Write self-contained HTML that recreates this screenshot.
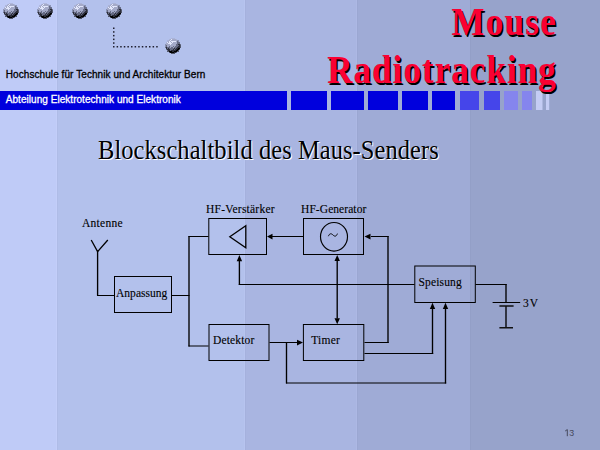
<!DOCTYPE html>
<html><head><meta charset="utf-8">
<style>
html,body{margin:0;padding:0;width:600px;height:450px;overflow:hidden;background:#B3C1EC}
svg{display:block}
.sans{font-family:"Liberation Sans",sans-serif}
.serif{font-family:"Liberation Serif",serif}
</style></head><body>
<svg width="600" height="450" viewBox="0 0 600 450">
<defs>
<symbol id="ballsym" viewBox="0 0 18 18" width="18" height="18"><rect x="7" y="1" width="1" height="1" fill="#a4aac8" fill-opacity="0.55"/><rect x="8" y="1" width="1" height="1" fill="#a4aac8" fill-opacity="0.55"/><rect x="9" y="1" width="1" height="1" fill="#a4aac8" fill-opacity="0.55"/><rect x="10" y="1" width="1" height="1" fill="#a4aac8" fill-opacity="0.55"/><rect x="5" y="2" width="1" height="1" fill="#a4aac8" fill-opacity="0.55"/><rect x="6" y="2" width="1" height="1" fill="#a4aac8"/><rect x="7" y="2" width="1" height="1" fill="#e2e7fb"/><rect x="8" y="2" width="1" height="1" fill="#a4aac8"/><rect x="9" y="2" width="1" height="1" fill="#a4aac8"/><rect x="10" y="2" width="1" height="1" fill="#a4aac8"/><rect x="11" y="2" width="1" height="1" fill="#a4aac8"/><rect x="12" y="2" width="1" height="1" fill="#a4aac8" fill-opacity="0.55"/><rect x="3" y="3" width="1" height="1" fill="#a4aac8" fill-opacity="0.55"/><rect x="4" y="3" width="1" height="1" fill="#a4aac8" fill-opacity="0.55"/><rect x="5" y="3" width="1" height="1" fill="#a4aac8"/><rect x="6" y="3" width="1" height="1" fill="#e2e7fb"/><rect x="7" y="3" width="1" height="1" fill="#a4aac8"/><rect x="8" y="3" width="1" height="1" fill="#a4aac8"/><rect x="9" y="3" width="1" height="1" fill="#a4aac8"/><rect x="10" y="3" width="1" height="1" fill="#a4aac8"/><rect x="11" y="3" width="1" height="1" fill="#a4aac8"/><rect x="12" y="3" width="1" height="1" fill="#a4aac8"/><rect x="13" y="3" width="1" height="1" fill="#666b84" fill-opacity="0.55"/><rect x="14" y="3" width="1" height="1" fill="#666b84" fill-opacity="0.55"/><rect x="3" y="4" width="1" height="1" fill="#a4aac8" fill-opacity="0.55"/><rect x="4" y="4" width="1" height="1" fill="#a4aac8"/><rect x="5" y="4" width="1" height="1" fill="#e2e7fb"/><rect x="6" y="4" width="1" height="1" fill="#a4aac8"/><rect x="7" y="4" width="1" height="1" fill="#e2e7fb"/><rect x="8" y="4" width="1" height="1" fill="#e2e7fb"/><rect x="9" y="4" width="1" height="1" fill="#e2e7fb"/><rect x="10" y="4" width="1" height="1" fill="#e2e7fb"/><rect x="11" y="4" width="1" height="1" fill="#e2e7fb"/><rect x="12" y="4" width="1" height="1" fill="#a4aac8"/><rect x="13" y="4" width="1" height="1" fill="#666b84"/><rect x="14" y="4" width="1" height="1" fill="#666b84" fill-opacity="0.55"/><rect x="2" y="5" width="1" height="1" fill="#a4aac8" fill-opacity="0.55"/><rect x="3" y="5" width="1" height="1" fill="#e2e7fb"/><rect x="4" y="5" width="1" height="1" fill="#a4aac8"/><rect x="5" y="5" width="1" height="1" fill="#e2e7fb"/><rect x="6" y="5" width="1" height="1" fill="#e2e7fb"/><rect x="7" y="5" width="1" height="1" fill="#a4aac8"/><rect x="8" y="5" width="1" height="1" fill="#e2e7fb"/><rect x="9" y="5" width="1" height="1" fill="#a4aac8"/><rect x="10" y="5" width="1" height="1" fill="#a4aac8"/><rect x="11" y="5" width="1" height="1" fill="#a4aac8"/><rect x="12" y="5" width="1" height="1" fill="#a4aac8"/><rect x="13" y="5" width="1" height="1" fill="#666b84"/><rect x="14" y="5" width="1" height="1" fill="#666b84"/><rect x="15" y="5" width="1" height="1" fill="#2c2e3a" fill-opacity="0.55"/><rect x="2" y="6" width="1" height="1" fill="#a4aac8"/><rect x="3" y="6" width="1" height="1" fill="#a4aac8"/><rect x="4" y="6" width="1" height="1" fill="#e2e7fb"/><rect x="5" y="6" width="1" height="1" fill="#e2e7fb"/><rect x="6" y="6" width="1" height="1" fill="#e2e7fb"/><rect x="7" y="6" width="1" height="1" fill="#e2e7fb"/><rect x="8" y="6" width="1" height="1" fill="#a4aac8"/><rect x="9" y="6" width="1" height="1" fill="#a4aac8"/><rect x="10" y="6" width="1" height="1" fill="#a4aac8"/><rect x="11" y="6" width="1" height="1" fill="#a4aac8"/><rect x="12" y="6" width="1" height="1" fill="#a4aac8"/><rect x="13" y="6" width="1" height="1" fill="#666b84"/><rect x="14" y="6" width="1" height="1" fill="#666b84"/><rect x="15" y="6" width="1" height="1" fill="#666b84"/><rect x="1" y="7" width="1" height="1" fill="#666b84" fill-opacity="0.55"/><rect x="2" y="7" width="1" height="1" fill="#a4aac8"/><rect x="3" y="7" width="1" height="1" fill="#a4aac8"/><rect x="4" y="7" width="1" height="1" fill="#a4aac8"/><rect x="5" y="7" width="1" height="1" fill="#a4aac8"/><rect x="6" y="7" width="1" height="1" fill="#e2e7fb"/><rect x="7" y="7" width="1" height="1" fill="#a4aac8"/><rect x="8" y="7" width="1" height="1" fill="#a4aac8"/><rect x="9" y="7" width="1" height="1" fill="#a4aac8"/><rect x="10" y="7" width="1" height="1" fill="#a4aac8"/><rect x="11" y="7" width="1" height="1" fill="#a4aac8"/><rect x="12" y="7" width="1" height="1" fill="#666b84"/><rect x="13" y="7" width="1" height="1" fill="#666b84"/><rect x="14" y="7" width="1" height="1" fill="#2c2e3a"/><rect x="15" y="7" width="1" height="1" fill="#2c2e3a"/><rect x="16" y="7" width="1" height="1" fill="#2c2e3a" fill-opacity="0.55"/><rect x="1" y="8" width="1" height="1" fill="#666b84" fill-opacity="0.55"/><rect x="2" y="8" width="1" height="1" fill="#666b84"/><rect x="3" y="8" width="1" height="1" fill="#a4aac8"/><rect x="4" y="8" width="1" height="1" fill="#a4aac8"/><rect x="5" y="8" width="1" height="1" fill="#a4aac8"/><rect x="6" y="8" width="1" height="1" fill="#a4aac8"/><rect x="7" y="8" width="1" height="1" fill="#a4aac8"/><rect x="8" y="8" width="1" height="1" fill="#a4aac8"/><rect x="9" y="8" width="1" height="1" fill="#a4aac8"/><rect x="10" y="8" width="1" height="1" fill="#a4aac8"/><rect x="11" y="8" width="1" height="1" fill="#a4aac8"/><rect x="12" y="8" width="1" height="1" fill="#666b84"/><rect x="13" y="8" width="1" height="1" fill="#666b84"/><rect x="14" y="8" width="1" height="1" fill="#666b84"/><rect x="15" y="8" width="1" height="1" fill="#2c2e3a"/><rect x="16" y="8" width="1" height="1" fill="#000000" fill-opacity="0.55"/><rect x="1" y="9" width="1" height="1" fill="#666b84" fill-opacity="0.55"/><rect x="2" y="9" width="1" height="1" fill="#666b84"/><rect x="3" y="9" width="1" height="1" fill="#a4aac8"/><rect x="4" y="9" width="1" height="1" fill="#a4aac8"/><rect x="5" y="9" width="1" height="1" fill="#666b84"/><rect x="6" y="9" width="1" height="1" fill="#a4aac8"/><rect x="7" y="9" width="1" height="1" fill="#a4aac8"/><rect x="8" y="9" width="1" height="1" fill="#a4aac8"/><rect x="9" y="9" width="1" height="1" fill="#666b84"/><rect x="10" y="9" width="1" height="1" fill="#a4aac8"/><rect x="11" y="9" width="1" height="1" fill="#666b84"/><rect x="12" y="9" width="1" height="1" fill="#666b84"/><rect x="13" y="9" width="1" height="1" fill="#666b84"/><rect x="14" y="9" width="1" height="1" fill="#2c2e3a"/><rect x="15" y="9" width="1" height="1" fill="#2c2e3a"/><rect x="16" y="9" width="1" height="1" fill="#000000" fill-opacity="0.55"/><rect x="1" y="10" width="1" height="1" fill="#2c2e3a" fill-opacity="0.55"/><rect x="2" y="10" width="1" height="1" fill="#2c2e3a"/><rect x="3" y="10" width="1" height="1" fill="#666b84"/><rect x="4" y="10" width="1" height="1" fill="#666b84"/><rect x="5" y="10" width="1" height="1" fill="#666b84"/><rect x="6" y="10" width="1" height="1" fill="#a4aac8"/><rect x="7" y="10" width="1" height="1" fill="#666b84"/><rect x="8" y="10" width="1" height="1" fill="#666b84"/><rect x="9" y="10" width="1" height="1" fill="#a4aac8"/><rect x="10" y="10" width="1" height="1" fill="#666b84"/><rect x="11" y="10" width="1" height="1" fill="#666b84"/><rect x="12" y="10" width="1" height="1" fill="#666b84"/><rect x="13" y="10" width="1" height="1" fill="#2c2e3a"/><rect x="14" y="10" width="1" height="1" fill="#2c2e3a"/><rect x="15" y="10" width="1" height="1" fill="#2c2e3a"/><rect x="16" y="10" width="1" height="1" fill="#000000" fill-opacity="0.55"/><rect x="2" y="11" width="1" height="1" fill="#2c2e3a"/><rect x="3" y="11" width="1" height="1" fill="#666b84"/><rect x="4" y="11" width="1" height="1" fill="#2c2e3a"/><rect x="5" y="11" width="1" height="1" fill="#666b84"/><rect x="6" y="11" width="1" height="1" fill="#666b84"/><rect x="7" y="11" width="1" height="1" fill="#666b84"/><rect x="8" y="11" width="1" height="1" fill="#666b84"/><rect x="9" y="11" width="1" height="1" fill="#666b84"/><rect x="10" y="11" width="1" height="1" fill="#2c2e3a"/><rect x="11" y="11" width="1" height="1" fill="#666b84"/><rect x="12" y="11" width="1" height="1" fill="#2c2e3a"/><rect x="13" y="11" width="1" height="1" fill="#2c2e3a"/><rect x="14" y="11" width="1" height="1" fill="#000000"/><rect x="15" y="11" width="1" height="1" fill="#000000"/><rect x="2" y="12" width="1" height="1" fill="#2c2e3a" fill-opacity="0.55"/><rect x="3" y="12" width="1" height="1" fill="#2c2e3a"/><rect x="4" y="12" width="1" height="1" fill="#2c2e3a"/><rect x="5" y="12" width="1" height="1" fill="#2c2e3a"/><rect x="6" y="12" width="1" height="1" fill="#666b84"/><rect x="7" y="12" width="1" height="1" fill="#666b84"/><rect x="8" y="12" width="1" height="1" fill="#666b84"/><rect x="9" y="12" width="1" height="1" fill="#2c2e3a"/><rect x="10" y="12" width="1" height="1" fill="#666b84"/><rect x="11" y="12" width="1" height="1" fill="#2c2e3a"/><rect x="12" y="12" width="1" height="1" fill="#2c2e3a"/><rect x="13" y="12" width="1" height="1" fill="#000000"/><rect x="14" y="12" width="1" height="1" fill="#000000"/><rect x="15" y="12" width="1" height="1" fill="#000000" fill-opacity="0.55"/><rect x="3" y="13" width="1" height="1" fill="#2c2e3a" fill-opacity="0.55"/><rect x="4" y="13" width="1" height="1" fill="#2c2e3a"/><rect x="5" y="13" width="1" height="1" fill="#2c2e3a"/><rect x="6" y="13" width="1" height="1" fill="#666b84"/><rect x="7" y="13" width="1" height="1" fill="#2c2e3a"/><rect x="8" y="13" width="1" height="1" fill="#2c2e3a"/><rect x="9" y="13" width="1" height="1" fill="#2c2e3a"/><rect x="10" y="13" width="1" height="1" fill="#2c2e3a"/><rect x="11" y="13" width="1" height="1" fill="#2c2e3a"/><rect x="12" y="13" width="1" height="1" fill="#000000"/><rect x="13" y="13" width="1" height="1" fill="#000000"/><rect x="14" y="13" width="1" height="1" fill="#000000" fill-opacity="0.55"/><rect x="3" y="14" width="1" height="1" fill="#000000" fill-opacity="0.55"/><rect x="4" y="14" width="1" height="1" fill="#000000" fill-opacity="0.55"/><rect x="5" y="14" width="1" height="1" fill="#000000"/><rect x="6" y="14" width="1" height="1" fill="#000000"/><rect x="7" y="14" width="1" height="1" fill="#000000"/><rect x="8" y="14" width="1" height="1" fill="#2c2e3a"/><rect x="9" y="14" width="1" height="1" fill="#2c2e3a"/><rect x="10" y="14" width="1" height="1" fill="#000000"/><rect x="11" y="14" width="1" height="1" fill="#000000"/><rect x="12" y="14" width="1" height="1" fill="#000000"/><rect x="13" y="14" width="1" height="1" fill="#000000" fill-opacity="0.55"/><rect x="14" y="14" width="1" height="1" fill="#000000" fill-opacity="0.55"/><rect x="5" y="15" width="1" height="1" fill="#000000" fill-opacity="0.55"/><rect x="6" y="15" width="1" height="1" fill="#000000"/><rect x="7" y="15" width="1" height="1" fill="#000000"/><rect x="8" y="15" width="1" height="1" fill="#000000"/><rect x="9" y="15" width="1" height="1" fill="#000000"/><rect x="10" y="15" width="1" height="1" fill="#2c2e3a"/><rect x="11" y="15" width="1" height="1" fill="#2c2e3a"/><rect x="12" y="15" width="1" height="1" fill="#2c2e3a" fill-opacity="0.55"/><rect x="7" y="16" width="1" height="1" fill="#000000" fill-opacity="0.55"/><rect x="8" y="16" width="1" height="1" fill="#000000" fill-opacity="0.55"/><rect x="9" y="16" width="1" height="1" fill="#000000" fill-opacity="0.55"/><rect x="10" y="16" width="1" height="1" fill="#000000" fill-opacity="0.55"/></symbol>
</defs>
<!-- background bands -->
<rect x="0" y="0" width="57" height="450" fill="#BFCBF7"/>
<rect x="57" y="0" width="188" height="450" fill="#B3C1EC"/>
<rect x="245" y="0" width="112" height="450" fill="#A9B5E1"/>
<rect x="357" y="0" width="113" height="450" fill="#9FABD6"/>
<rect x="470" y="0" width="130" height="450" fill="#97A3CB"/>
<rect x="56" y="0" width="1" height="450" fill="#C3CEF9"/>
<rect x="57" y="0" width="1" height="450" fill="#AFBCE7"/>
<rect x="244" y="0" width="1" height="450" fill="#B7C4EF"/>
<rect x="245" y="0" width="1" height="450" fill="#A5B1DD"/>
<rect x="356" y="0" width="1" height="450" fill="#ADB8E4"/>
<rect x="357" y="0" width="1" height="450" fill="#9BA7D2"/>
<rect x="470" y="0" width="1" height="450" fill="#939FC7"/>

<!-- balls -->
<use href="#ballsym" x="2" y="2" width="18" height="18"/>
<use href="#ballsym" x="36" y="2" width="18" height="18"/>
<use href="#ballsym" x="71" y="2" width="18" height="18"/>
<use href="#ballsym" x="105" y="2" width="18" height="18"/>
<use href="#ballsym" x="164" y="37" width="18" height="18"/>

<!-- dotted connector -->
<g fill="#202030">
<rect x="113" y="27.5" width="1.5" height="1.5"/>
<rect x="113" y="31.2" width="1.5" height="1.5"/>
<rect x="113" y="34.9" width="1.5" height="1.5"/>
<rect x="113" y="38.6" width="1.5" height="1.5"/>
<rect x="113" y="42.3" width="1.5" height="1.5"/>
<rect x="113" y="46" width="1.5" height="1.5"/>
<rect x="116.6" y="46" width="1.5" height="1.5"/>
<rect x="120.2" y="46" width="1.5" height="1.5"/>
<rect x="123.8" y="46" width="1.5" height="1.5"/>
<rect x="127.4" y="46" width="1.5" height="1.5"/>
<rect x="131" y="46" width="1.5" height="1.5"/>
<rect x="134.6" y="46" width="1.5" height="1.5"/>
<rect x="138.2" y="46" width="1.5" height="1.5"/>
<rect x="141.8" y="46" width="1.5" height="1.5"/>
<rect x="145.4" y="46" width="1.5" height="1.5"/>
<rect x="149" y="46" width="1.5" height="1.5"/>
<rect x="152.6" y="46" width="1.5" height="1.5"/>
<rect x="156.2" y="46" width="1.5" height="1.5"/>
</g>

<!-- header text -->
<text class="sans" x="5.8" y="77.8" font-size="10" textLength="199.6" fill="#000" stroke="#000" stroke-width="0.3">Hochschule für Technik und Architektur Bern</text>
<!-- blue bar -->
<rect x="0" y="91" width="287" height="19" fill="#0000DD"/>
<text class="sans" x="5.8" y="102.7" font-size="10" textLength="175" fill="#fff" stroke="#fff" stroke-width="0.3">Abteilung Elektrotechnik und Elektronik</text>
<g fill="#0000DD">
<rect x="291" y="91" width="36" height="19"/>
<rect x="331" y="91" width="33" height="19"/>
<rect x="368" y="91" width="30" height="19"/>
<rect x="402" y="91" width="26" height="19"/>
<rect x="432" y="91" width="23" height="19"/>
</g>
<g fill="#4545EA">
<rect x="460" y="91" width="19" height="19"/>
<rect x="484" y="91" width="16" height="19"/>
</g>
<g fill="#8585EE">
<rect x="504" y="91" width="14" height="19"/>
<rect x="522" y="91" width="10" height="19"/>
</g>
<g fill="#C4CCF4">
<rect x="536" y="91" width="6.5" height="19"/>
<rect x="546" y="91" width="3.2" height="19"/>
</g>

<!-- title -->
<g class="serif" font-weight="bold" font-size="35" text-anchor="end">
<g transform="translate(0,35) scale(1,1.15)">
<text x="557.3" y="1.4" fill="#000" textLength="104.3">Mouse</text>
<text x="555.8" y="0" fill="#FA0032" textLength="104.3">Mouse</text>
</g>
<g transform="translate(0,83) scale(1,1.15)">
<text x="557.3" y="1.4" fill="#000" textLength="228.6">Radiotracking</text>
<text x="555.8" y="0" fill="#FA0032" textLength="228.6">Radiotracking</text>
</g>
</g>

<!-- subtitle -->
<g class="serif" font-size="24.5" transform="translate(98,158.7) scale(1,1.08)">
<text x="1" y="1" fill="#fff" textLength="340.8">Blockschaltbild des Maus-Senders</text>
<text x="0" y="0" fill="#000" textLength="340.8">Blockschaltbild des Maus-Senders</text>
</g>

<!-- diagram -->
<g fill="none" stroke="#000" stroke-width="1">
<!-- horizontal lines (1px rows) -->
<path d="M97 295.5 H114 M172 295.5 H189.5 M188.5 236.5 H208.5 M188.5 346 H208.5
M238.7 284.5 H414.5 M269.5 342.5 H298 M286 383 H446.2 M303 236.5 H272 M371 236.5 H388.6
M364.5 342.5 H388.6 M364.5 353.5 H433.2 M475.5 284.5 H506.6"/>
<path d="M492.6 302.5 H520.2"/>
<!-- boxes -->
<rect x="114.5" y="276.5" width="57" height="36"/>
<rect x="208.8" y="218.5" width="57.7" height="36"/>
<rect x="303.5" y="218.5" width="60" height="36"/>
<rect x="414.8" y="266" width="60.5" height="36.5"/>
<rect x="209" y="324.5" width="60" height="36"/>
<rect x="303.4" y="324.5" width="60.4" height="36"/>
</g>
<g fill="none" stroke="#000" stroke-width="1.35">
<!-- vertical lines -->
<path d="M97.6 250.5 V295.5 M189 236 V346.5 M239.4 261 V284.5 M337.2 260 V318.5
M388 236 V343 M432.5 308 V354 M445.5 308 V383.5 M286.5 342.5 V383.5
M506 284 V302.5 M506 306 V327.5"/>
<!-- antenna arms -->
<path d="M91.2 240 L97.6 251.6 L107.8 240" stroke-width="1.3"/>
<!-- triangle -->
<path d="M229.8 236.8 L245.8 225.8 V247.8 Z" stroke-width="1.3"/>
<!-- circle -->
<ellipse cx="334" cy="236.8" rx="13.5" ry="14.3" stroke-width="1.15"/>
<!-- tilde -->
<path d="M328.4 236.2 C329.6 233.2 331.2 233.2 333 235 C334.8 236.8 336.4 236.6 337.4 233.6" stroke-width="0.95"/>
<!-- battery plates -->
<path d="M499.4 305.9 H513.6 M499.4 327.7 H513" stroke-width="1.5" stroke="#111"/>
</g>
<!-- arrowheads -->
<g fill="#000">
<path d="M267 236.5 L272.5 233.7 L272.5 239.5 Z"/>
<path d="M364.5 236.5 L370.5 233.7 L370.5 239.5 Z"/>
<path d="M239.4 255 L236.7 261.3 L242.1 261.3 Z"/>
<path d="M337.2 255 L334.5 261 L339.9 261 Z"/>
<path d="M337.2 324.2 L334.5 318.2 L339.9 318.2 Z"/>
<path d="M303 342.5 L297 339.7 L297 345.5 Z"/>
<path d="M432.5 302.8 L429.8 309 L435.2 309 Z"/>
<path d="M445.5 302.8 L442.8 309 L448.2 309 Z"/>
</g>

<!-- labels -->
<g class="serif" font-size="11.5" fill="#000" stroke="#000" stroke-width="0.12">
<text x="82.00" y="227.2" textLength="40.56">Antenne</text>
<text x="206.00" y="212.8" textLength="68.58">HF-Verstärker</text>
<text x="301.00" y="212.8" textLength="65.30">HF-Generator</text>
<text x="116.00" y="296.8" textLength="51.31">Anpassung</text>
<text x="418.50" y="286.2" textLength="43.17">Speisung</text>
<text x="213.00" y="343.8" textLength="41.23">Detektor</text>
<text x="311.25" y="343.8" textLength="28.69">Timer</text>
<text x="523.00" y="306.8" textLength="15.05">3V</text>
</g>
<g fill="none" stroke="#45485c" stroke-width="1">
<path d="M565.2 431 L567.3 429.6 V436.2"/>
</g>
<text class="sans" x="569.2" y="436.3" font-size="9.8" fill="#45485c" transform="translate(569.2 0) scale(0.9 1) translate(-569.2 0)">3</text>
</svg>
</body></html>
